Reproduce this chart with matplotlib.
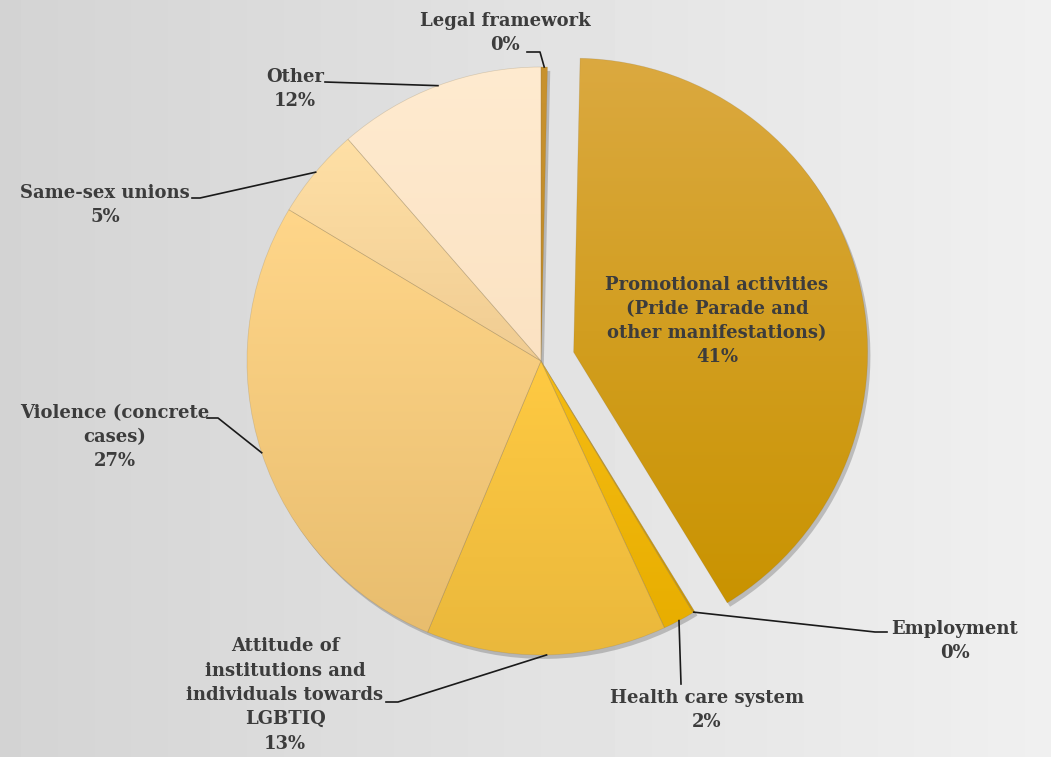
import numpy as np
import matplotlib.pyplot as plt
from matplotlib.colors import LinearSegmentedColormap

# data (clockwise from 12 o'clock)
labels = ["Legal framework",
          "Promotional activities\n(Pride Parade and\nother manifestations)", "Employment",
          "Health care system", "Attitude of\ninstitutions and\nindividuals towards\nLGBTIQ",
          "Violence (concrete\ncases)", "Same-sex unions", "Other"]
values = [0.35, 40.9, 0.1, 1.75, 13.2, 27.3, 5.0, 11.4]
pct_text = ["0%", "41%", "0%", "2%", "13%", "27%", "5%", "12%"]
explode_frac = [0, 0.115, 0, 0, 0, 0, 0, 0]
# gradient colours, top -> bottom
grad = [("#C8922E", "#C08A28"), ("#DBA940", "#C99300"), ("#E0A800", "#D09A00"),
        ("#F5BC14", "#E8AE00"), ("#FFCA42", "#EAB83C"), ("#FFD68A", "#E8BD6E"),
        ("#FFE0A6", "#F0CC92"), ("#FFEBD0", "#FBE2C2")]

W, H = 1051, 757
fig = plt.figure(figsize=(W / 100, H / 100), dpi=100)

# background
bg = fig.add_axes([0, 0, 1, 1])
gx = np.linspace(0, 1, 200)
bgimg = np.tile(0.83 + 0.11 * gx, (50, 1))
bg.imshow(bgimg, cmap="gray", vmin=0, vmax=1, aspect="auto", extent=[0, 1, 0, 1])
bg.axis("off")

ax = fig.add_axes([0, 0, 1, 1])
cx, cy, R = 541, H - 361, 294
wedges, _ = ax.pie(values, explode=[e * R for e in explode_frac], startangle=90,
                   counterclock=False, radius=R, center=(cx, cy), frame=True,
                   shadow=dict(ox=2.0, oy=-2.8, facecolor="#505050", edgecolor="none",
                               alpha=0.3),
                   wedgeprops=dict(linewidth=0.5, edgecolor=(0.55, 0.45, 0.25, 0.25)))

# gradient fill clipped to each wedge
for w, (c1, c2) in zip(wedges, grad):
    cmap = LinearSegmentedColormap.from_list("g", [c2, c1])
    bb = w.get_path().get_extents()
    img = ax.imshow(np.linspace(0, 1, 256).reshape(-1, 1), cmap=cmap, origin="lower",
                    extent=[bb.x0 - 2, bb.x1 + 2, bb.y0 - 2, bb.y1 + 2],
                    aspect="auto", zorder=w.get_zorder() + 0.1)
    img.set_clip_path(w)
    w.set_facecolor("none")
    w.set_zorder(w.get_zorder() + 0.2)
ax.set_xlim(0, W)
ax.set_ylim(0, H)
ax.axis("off")

font = dict(family="DejaVu Serif", fontweight="bold", color="#3c3c3c", fontsize=13,
            linespacing=1.45)

def edge_point(w, frac=0.5):
    # point on wedge arc at fraction along its angle span
    ang = np.deg2rad(w.theta1 + (w.theta2 - w.theta1) * frac)
    x0, y0 = w.center
    return x0 + w.r * np.cos(ang), y0 + w.r * np.sin(ang)

# label positions (text centre, image coords) and leader elbows
lab_pos = [(505, 33), (717, 321), (955, 641), (707, 710), (285, 695), (115, 437),
           (105, 205), (295, 89)]
elbows = [[(527, 52), (540, 52)], None, [(887, 632), (875, 632)], [(681, 684)],
          [(386, 702), (398, 702)], [(207, 418), (218, 418)], [(192, 198), (200, 198)],
          [(325, 82)]]

for i in range(len(labels)):
    x, y = lab_pos[i]
    ax.text(x, H - y, labels[i] + "\n" + pct_text[i], ha="center", va="center", zorder=10, **font)
    if elbows[i] is None:
        continue
    px, py = edge_point(wedges[i])
    pts = [(ex, H - ey) for ex, ey in elbows[i]] + [(px, py)]
    ax.plot([p[0] for p in pts], [p[1] for p in pts], color="#1a1a1a", lw=1.2, zorder=9)

fig.savefig("out.png", dpi=100)
